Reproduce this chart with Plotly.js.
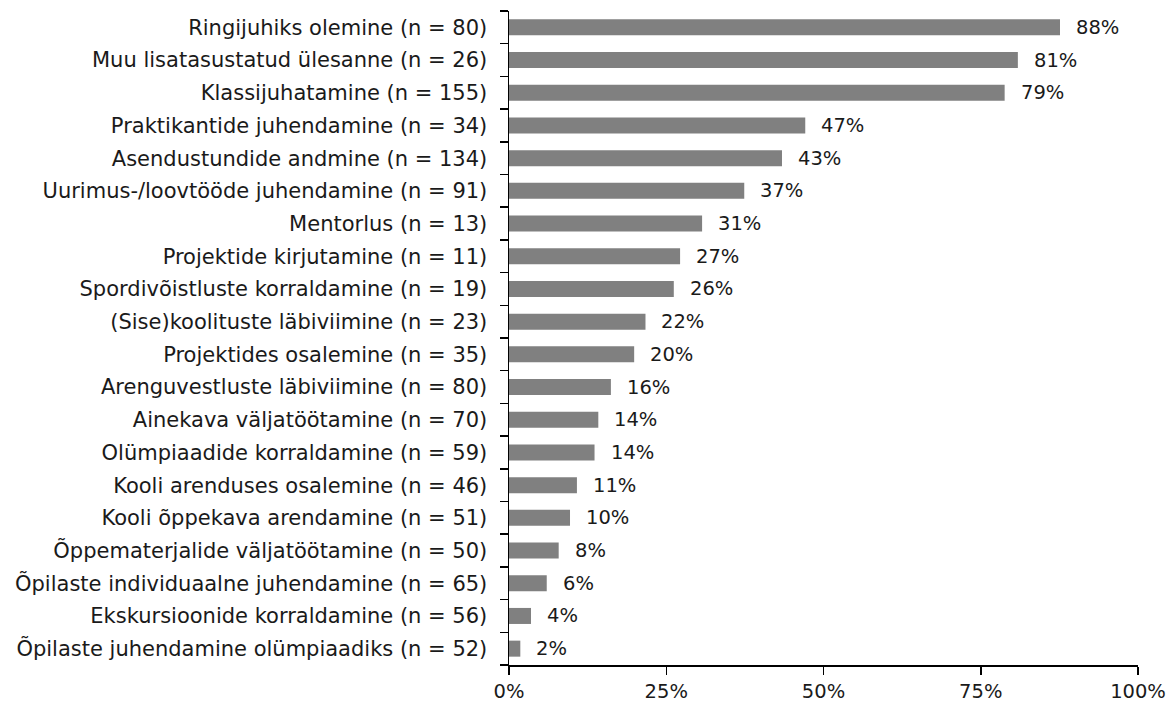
<!DOCTYPE html>
<html>
<head>
<meta charset="utf-8">
<script src="https://cdn.plot.ly/plotly-3.0.1.min.js"></script>
<style>html,body{margin:0;padding:0;background:#fff;}#chart{width:1176px;height:705px;}</style>
</head>
<body>
<div id="chart"></div>
<script>
var categories = [
  "Ringijuhiks olemine (n = 80)",
  "Muu lisatasustatud ülesanne (n = 26)",
  "Klassijuhatamine (n = 155)",
  "Praktikantide juhendamine (n = 34)",
  "Asendustundide andmine (n = 134)",
  "Uurimus-/loovtööde juhendamine (n = 91)",
  "Mentorlus (n = 13)",
  "Projektide kirjutamine (n = 11)",
  "Spordivõistluste korraldamine (n = 19)",
  "(Sise)koolituste läbiviimine (n = 23)",
  "Projektides osalemine (n = 35)",
  "Arenguvestluste läbiviimine (n = 80)",
  "Ainekava väljatöötamine (n = 70)",
  "Olümpiaadide korraldamine (n = 59)",
  "Kooli arenduses osalemine (n = 46)",
  "Kooli õppekava arendamine (n = 51)",
  "Õppematerjalide väljatöötamine (n = 50)",
  "Õpilaste individuaalne juhendamine (n = 65)",
  "Ekskursioonide korraldamine (n = 56)",
  "Õpilaste juhendamine olümpiaadiks (n = 52)"
];
var values = [87.6, 80.9, 78.8, 47.1, 43.4, 37.4, 30.7, 27.2, 26.2, 21.7, 19.9, 16.2, 14.2, 13.6, 10.8, 9.7, 7.9, 6.0, 3.5, 1.8];
var valueLabels = ["88%", "81%", "79%", "47%", "43%", "37%", "31%", "27%", "26%", "22%", "20%", "16%", "14%", "14%", "11%", "10%", "8%", "6%", "4%", "2%"];
var xTickVals = [0, 25, 50, 75, 100];
var xTickText = ["0%", "25%", "50%", "75%", "100%"];

var FONT = "DejaVu Sans, sans-serif";

var annotations = categories.map(function (c, i) {
  return {
    x: values[i], y: c, xref: "x", yref: "y",
    text: valueLabels[i], showarrow: false,
    xanchor: "left", yanchor: "middle", xshift: 14,
    font: {family: FONT, size: 19.5, color: "#1a1a1a"}
  };
});

var trace = {
  type: "bar",
  orientation: "h",
  x: values,
  y: categories,
  marker: {color: "#808080"},
  hoverinfo: "none"
};

var layout = {
  width: 1176, height: 705,
  margin: {l: 509, r: 38, t: 11, b: 40},
  paper_bgcolor: "#fff", plot_bgcolor: "#fff",
  showlegend: false,
  bargap: 0.51,
  font: {family: FONT, size: 19.5, color: "#1a1a1a"},
  xaxis: {
    range: [0, 100],
    tickvals: xTickVals, ticktext: xTickText,
    showgrid: false, zeroline: false,
    showline: true, linecolor: "#000", linewidth: 1.5,
    ticks: "outside", ticklen: 8, tickwidth: 1.5, tickcolor: "#000",
    tickfont: {family: FONT, size: 19.5, color: "#1a1a1a"},
    fixedrange: true
  },
  yaxis: {
    type: "category",
    categoryorder: "array", categoryarray: categories.slice().reverse(),
    autorange: false, range: [-0.5, categories.length - 0.5],
    showgrid: false, zeroline: false,
    showline: true, linecolor: "#000", linewidth: 1.5,
    ticks: "outside", tickson: "boundaries", ticklen: 8, tickwidth: 1.5, tickcolor: "#000",
    ticklabelstandoff: 16,
    tickfont: {family: FONT, size: 21, color: "#1a1a1a"},
    fixedrange: true
  },
  annotations: annotations
};

Plotly.newPlot("chart", [trace], layout, {displayModeBar: false, staticPlot: true});
</script>
</body>
</html>
